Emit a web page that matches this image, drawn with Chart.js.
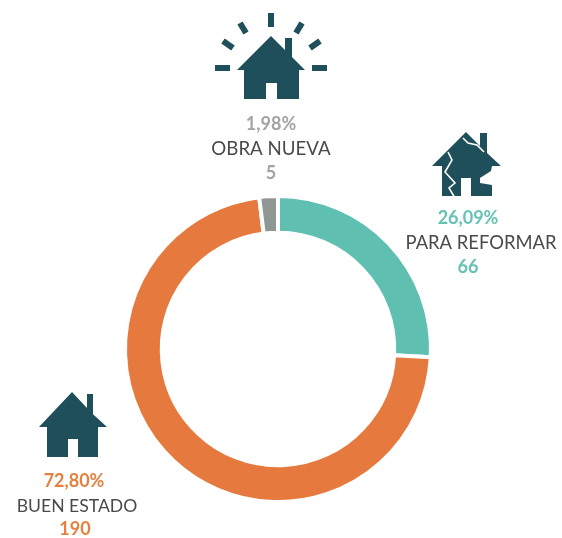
<!DOCTYPE html>
<html><head><meta charset="utf-8">
<style>html,body{margin:0;padding:0;background:#fff}canvas{display:block}</style>
<script src="https://cdn.jsdelivr.net/npm/chart.js@4"></script>
</head><body>
<canvas id="c" width="562" height="538"></canvas>
<script>
const categories = ["PARA REFORMAR","BUEN ESTADO","OBRA NUEVA"];
const percentValues = [26.09,72.80,1.98];
const percentLabels = ["26,09%","72,80%","1,98%"];
const counts = [66,190,5];
const sliceColors = ["#5FBFB1","#E67A3E","#8E9794"];
const labelColors = ["#66C2B4","#E5813F","#A3A3A3"];
const DARK="#1F4F5B", FONT='"Lato"';

function poly(ctx,pts,fill){ctx.beginPath();pts.forEach((p,i)=>i?ctx.lineTo(p[0],p[1]):ctx.moveTo(p[0],p[1]));ctx.closePath();ctx.fillStyle=fill;ctx.fill();}
function house(ctx,a,eL,eR,eY,bL,bR,bot,dL,dR,dT,cL,cR,cT){
  const slope=(eY-a[1])/(a[0]-eL);
  const yAt=x=>a[1]+(x-a[0])*slope;
  poly(ctx,[a,[cL,yAt(cL)],[cL,cT],[cR,cT],[cR,yAt(cR)],[eR,eY],[bR,eY],[bR,bot],[dR,bot],[dR,dT],[dL,dT],[dL,bot],[bL,bot],[bL,eY],[eL,eY]],DARK);
}
const iconsPlugin={id:"icons",afterDraw(chart){
  const ctx=chart.ctx;ctx.save();
  house(ctx,[271,36],237,305,70,244,299,99,266,277,83,285,292,38);
  house(ctx,[72,392],39,107,427,47,98,457,68,78,439,87,93,394);
  ctx.strokeStyle=DARK;ctx.lineWidth=6;
  [[271,13,271,27],[240,23,246,33],[223,41,233,48],[215,68,230,68],[312,68,327,68],[320,41,310,48],[302,23,296,33]].forEach(r=>{ctx.beginPath();ctx.moveTo(r[0],r[1]);ctx.lineTo(r[2],r[3]);ctx.stroke();});
  poly(ctx,[[466,132],[480,146],[480,133],[487,133],[487,153],[501,166],[492,166],[491,171],[480,178],[480,183],[492,185],[492,196],[471,196],[471,178],[461,178],[461,196],[442,196],[442,166],[432,166]],DARK);
  ctx.strokeStyle="#fff";ctx.lineWidth=1.6;ctx.lineJoin="miter";
  [[[448,152],[452,160],[445,172],[455,183],[449,188],[455,198]],[[463,138],[468,143],[477,145],[484,152]]].forEach(l=>{ctx.beginPath();l.forEach((p,i)=>i?ctx.lineTo(p[0],p[1]):ctx.moveTo(p[0],p[1]));ctx.stroke();});
  ctx.textAlign="center";ctx.textBaseline="middle";
  const spots=[[468,218,481,243,468,267],[74,481,77,506,75,529],[271,124,271,149,271,173]];
  const nameSizes=[18.4,17.6,18.7];
  categories.forEach((c,i)=>{const s=spots[i];
    ctx.font=`bold 18px ${FONT}`;ctx.fillStyle=labelColors[i];
    ctx.fillText(percentLabels[i],s[0],s[1]);
    ctx.fillText(String(counts[i]),s[4],s[5]);
    ctx.font=`${nameSizes[i]}px ${FONT}`;ctx.fillStyle="#4A4A4A";
    ctx.fillText(c,s[2],s[3]);
  });
  ctx.restore();
}};
new Chart(document.getElementById("c"),{
  type:"doughnut",
  data:{labels:categories,datasets:[{data:percentValues,backgroundColor:sliceColors,borderColor:"#fff",borderWidth:4}]},
  options:{responsive:false,animation:false,cutout:"76%",rotation:0,
    layout:{padding:{left:123,right:129,top:194,bottom:34}},
    plugins:{legend:{display:false},tooltip:{enabled:false}}},
  plugins:[iconsPlugin]
});
</script>
</body></html>
